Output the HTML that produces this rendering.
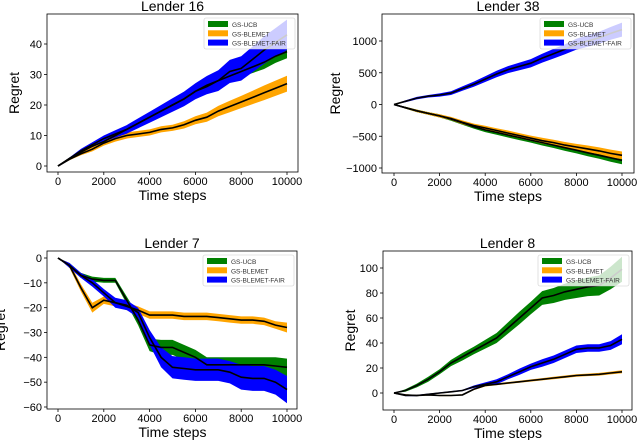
<!DOCTYPE html>
<html><head><meta charset="utf-8"><style>
body{margin:0;background:#fff;}
svg{display:block;font-family:"Liberation Sans","DejaVu Sans",sans-serif;}
</style></head><body>
<svg id="chart" width="640" height="440" viewBox="0 0 640 440" xmlns="http://www.w3.org/2000/svg"></svg>
<script>
const steps = [0,500,1000,1500,2000,2500,3000,3500,4000,4500,5000,5500,6000,6500,7000,7500,8000,8500,9000,9500,10000];
const xTicks = [0,2000,4000,6000,8000,10000];
const seriesNames = ["GS-UCB","GS-BLEMET","GS-BLEMET-FAIR"];
const seriesColors = ["#008000","#ffa500","#0000ff"];

const p1Titles = "Lender 16";
const p1Ucb = [0,2.5,4.5,6.5,8,10,12,14,16,18,20,22,24.5,26,28,29.5,31,32.5,34,36,37.5];
const p1UcbBand = [0,.3,.5,.5,.6,.7,.8,.9,1,1,1,1,1,1.2,1.4,1.6,1.8,2,2.2,2.2,2.2];
const p1Blemet = [0,2.2,4,5.5,7.5,9,10,10.5,11,12,12.5,13.5,15,16,18,19.5,21,22.5,24,25.5,27];
const p1BlemetBand = [0,.3,.5,.7,.8,1,1,1,1,1,1,1.2,1.3,1.5,1.7,1.9,2,2.2,2.4,2.5,2.6];
const p1Fair = [0,2.5,5,7,9,10.5,12,14,16,18,20,22,24.5,26.5,28,31,32,35,38,40.5,43];
const p1FairBand = [0,.3,.6,.8,1,1.2,1.4,1.6,1.8,2,2.2,2.4,2.6,3,3.4,3.8,4,4.2,4.5,4.7,5];
const p1YTicks = [0,10,20,30,40];

const p2Ucb = [0,-50,-100,-140,-180,-230,-290,-350,-400,-440,-480,-520,-560,-600,-640,-680,-720,-760,-800,-840,-880];
const p2UcbBand = [0,15,20,20,25,25,30,30,35,35,40,40,40,45,45,50,50,55,55,60,60];
const p2Blemet = [0,-50,-100,-140,-180,-220,-280,-330,-370,-410,-450,-490,-530,-570,-600,-640,-670,-700,-730,-770,-800];
const p2BlemetBand = [0,15,20,20,25,25,30,30,35,35,40,40,40,45,45,50,50,55,55,60,60];
const p2Fair = [0,50,100,130,150,180,250,320,400,480,550,600,650,730,800,870,950,1000,1050,1120,1180];
const p2FairBand = [0,15,20,20,25,30,35,40,45,50,55,60,65,70,75,80,85,90,95,100,110];
const p2YTicks = [-1000,-500,0,500,1000];

const p3Ucb = [0,-3,-7,-8.5,-9,-9,-17,-25,-35,-36,-36,-38,-40,-43,-43,-43,-43,-43,-43,-43.5,-44];
const p3UcbBand = [0,1,1,1,1,1,1.5,2,2.5,3,3,3,3,3,3,3,3,3,3,3.5,3.5];
const p3Blemet = [0,-3,-12,-20,-17,-18,-19.5,-21,-23,-23,-23,-23.5,-23.5,-23.5,-24,-24.5,-25,-25,-25.5,-27,-28];
const p3BlemetBand = [0,1,1.5,2,1.5,1.5,1.5,1.5,1.5,1.5,1.5,1.5,1.5,1.5,1.5,1.5,1.5,1.5,1.5,1.5,2];
const p3Fair = [0,-3,-7,-10,-14,-18,-19,-22,-32,-40,-44,-44.5,-45,-45,-45,-46,-48,-48.5,-48.5,-50,-53];
const p3FairBand = [0,1,1,1.5,1.5,2,2,2,3,4,4.5,4.5,4.5,4.5,4.5,4.5,5,5,5,5,5.5];
const p3YTicks = [-60,-50,-40,-30,-20,-10,0];

const p4Ucb = [0,2,6,11,17,24,29,34,39,44,52,60,68,76,78,81,83,85,86,92,99];
const p4UcbBand = [0,1,1.5,2,2,2.5,3,3,3.5,4,4.5,5,5,5.5,6,6.5,7,7.5,8,9,10];
const p4Blemet = [0,-1.5,-2,-1.5,-2,-2,-1.5,3,6,7,8,9,10,11,12,13,14,14.5,15,16,17];
const p4BlemetBand = [0,.5,.5,.5,.5,.5,.5,.7,.8,.8,.8,.8,.9,.9,1,1,1,1,1.1,1.1,1.2];
const p4Fair = [0,-2,-2,-1,0,1,2,5,7,9,13,17,21,24,27,31,35,36,36,38,43];
const p4FairBand = [0,.5,.5,.5,.5,.5,.5,1,1.5,2,2,2.5,2.5,3,3,3,3,3,3,3.5,4];
const p4YTicks = [0,20,40,60,80,100];

const NS="http://www.w3.org/2000/svg";
const svg=document.getElementById('chart');
function mk(tag,attrs,parent){const e=document.createElementNS(NS,tag);for(const k in attrs)e.setAttribute(k,attrs[k]);(parent||svg).appendChild(e);return e;}

const panels=[
 {name:"lender-16",title:"Lender 16",frame:[47,14,298,172],x0:58,x1:287,yv:[0,40],yp:[166,44],ticks:p1YTicks,means:[p1Ucb,p1Blemet,p1Fair],bands:[p1UcbBand,p1BlemetBand,p1FairBand],ticksFmt:v=>String(v)},
 {name:"lender-38",title:"Lender 38",frame:[382,14,634,173],x0:394,x1:622,yv:[-1000,1000],yp:[168,41],ticks:p2YTicks,means:[p2Ucb,p2Blemet,p2Fair],bands:[p2UcbBand,p2BlemetBand,p2FairBand],ticksFmt:v=>v<0?"\u2212"+(-v):String(v)},
 {name:"lender-7",title:"Lender 7",frame:[47,251,297,409],x0:58,x1:287,yv:[-60,0],yp:[407,258],ticks:p3YTicks,means:[p3Ucb,p3Blemet,p3Fair],bands:[p3UcbBand,p3BlemetBand,p3FairBand],ticksFmt:v=>v<0?"\u2212"+(-v):String(v)},
 {name:"lender-8",title:"Lender 8",frame:[383,251,632,410],x0:394,x1:622,yv:[0,100],yp:[393,268],ticks:p4YTicks,means:[p4Ucb,p4Blemet,p4Fair],bands:[p4UcbBand,p4BlemetBand,p4FairBand],ticksFmt:v=>String(v)}
];

panels.forEach(p=>{
 const g=mk('g',{});
 
 
 const [L,T,R,B]=p.frame;
 const xs=v=>p.x0+(v-0)/10000*(p.x1-p.x0);
 const ys=v=>p.yp[0]+(v-p.yv[0])/(p.yv[1]-p.yv[0])*(p.yp[1]-p.yp[0]);
 const clipId='clip-'+p.name;
 const cp=mk('clipPath',{id:clipId},g);mk('rect',{x:L,y:T,width:R-L,height:B-T},cp);
 const plot=mk('g',{'clip-path':'url(#'+clipId+')'},g);
 // bands
 p.means.forEach((m,i)=>{
  const bd=p.bands[i];
  let d='M'+steps.map((s,k)=>xs(s).toFixed(1)+','+ys(m[k]+bd[k]).toFixed(1)).join('L');
  for(let k=steps.length-1;k>=0;k--)d+='L'+xs(steps[k]).toFixed(1)+','+ys(m[k]-bd[k]).toFixed(1);
  const band=mk('path',{d:d+'Z',fill:seriesColors[i],stroke:'none'},plot);
  
  
 });
 p.means.forEach((m,i)=>{
  const line=mk('polyline',{points:steps.map((s,k)=>xs(s).toFixed(1)+','+ys(m[k]).toFixed(1)).join(' '),fill:'none',stroke:'#000','stroke-width':1.6},plot);
  
  
 });
 // frame
 const fr=mk('rect',{x:L,y:T,width:R-L,height:B-T,fill:'none',stroke:'#000','stroke-width':0.8},g);
 
 
 // x ticks
 xTicks.forEach(v=>{
  const x=xs(v);
  mk('line',{x1:x,y1:B,x2:x,y2:B+3,stroke:'#000','stroke-width':0.8},g);
  const t=mk('text',{x:x,y:B+13,'font-size':11,'text-anchor':'middle',fill:'#000'},g);t.textContent=String(v);
  
  
 });
 p.ticks.forEach(v=>{
  const y=ys(v);
  mk('line',{x1:L-3,y1:y,x2:L,y2:y,stroke:'#000','stroke-width':0.8},g);
  const t=mk('text',{x:L-5,y:y+4,'font-size':11,'text-anchor':'end',fill:'#000'},g);t.textContent=p.ticksFmt(v);
  
  
 });
 const ti=mk('text',{x:(L+R)/2,y:T-3,'font-size':14,'text-anchor':'middle',fill:'#000'},g);ti.textContent=p.title;
 
 
 const xl=mk('text',{x:(p.x0+p.x1)/2,y:B+28,'font-size':14,'text-anchor':'middle',fill:'#000'},g);xl.textContent='Time steps';
 
 
 const yx=L-(p.name==='lender-38'||p.name==='lender-7'?42:28);
 const yl=mk('text',{x:yx,y:(T+B)/2,'font-size':14,'text-anchor':'middle',fill:'#000',transform:'rotate(-90 '+yx+' '+(T+B)/2+')'},g);yl.textContent='Regret';
 
 
 // legend
 const lg=mk('g',{},g);
 
 
 const lw=91,lh=31,lx=R-lw-3,ly=T+4;
 mk('rect',{x:lx,y:ly,width:lw,height:lh,fill:'#fff','fill-opacity':0.8,stroke:'#ccc','stroke-width':0.6,rx:2},lg);
 seriesNames.forEach((n,i)=>{
  const e=mk('g',{},lg);
  
  
  mk('rect',{x:lx+4,y:ly+3+i*9.3,width:20,height:6,fill:seriesColors[i]},e);
  const t=mk('text',{x:lx+28,y:ly+9+i*9.3,'font-size':6.5,fill:'#333'},e);t.textContent=n;
 });
});
</script>
</body></html>
